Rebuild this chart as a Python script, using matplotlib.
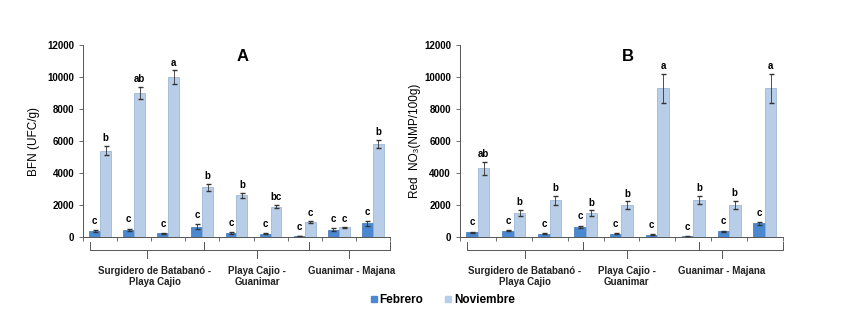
import numpy as np
import matplotlib.pyplot as plt
from matplotlib.lines import Line2D

plt.rcParams['font.family'] = ['Liberation Sans', 'DejaVu Sans']
plt.rcParams['font.weight'] = 'bold'

# BFN counts (panel A) and nitrate reducers (panel B), 9 sampling points
feb_a = [350, 450, 220, 650, 250, 200, 60, 450, 850]
feb_a_err = [60, 80, 40, 150, 50, 40, 20, 100, 150]
nov_a = [5400, 9000, 10000, 3100, 2600, 1900, 950, 600, 5800]
nov_a_err = [300, 380, 420, 200, 170, 100, 50, 40, 250]
feb_a_lab = ['c'] * 9
nov_a_lab = ['b', 'ab', 'a', 'b', 'b', 'bc', 'c', 'c', 'b']

feb_b = [300, 400, 200, 650, 200, 150, 50, 350, 850]
feb_b_err = [40, 50, 30, 60, 40, 30, 20, 50, 80]
nov_b = [4300, 1500, 2300, 1500, 2000, 9300, 2300, 2000, 9300]
nov_b_err = [400, 180, 280, 170, 220, 900, 250, 250, 900]
feb_b_lab = ['c'] * 9
nov_b_lab = ['ab', 'b', 'b', 'b', 'b', 'a', 'b', 'b', 'a']

zones = ['Surgidero de Batabanó -\nPlaya Cajio', 'Playa Cajio -\nGuanimar',
         'Guanimar - Majana']

c_feb = '#4a88cf'
c_nov = '#b8cde8'
c_nov_edge = '#93afd3'


def draw_panel(ax, feb, feb_err, nov, nov_err, feb_lab, nov_lab, title, ylabel,
               brackets, centers, label_x, ylabelpad):
    x = np.arange(len(feb))
    w = 0.32
    ax.bar(x - w / 2, feb, w, color=c_feb, edgecolor='#3a75b8', linewidth=0.5,
           yerr=feb_err, error_kw=dict(ecolor='#333333', elinewidth=0.6, capsize=1.8))
    ax.bar(x + w / 2, nov, w, color=c_nov, edgecolor=c_nov_edge, linewidth=0.5,
           yerr=nov_err, error_kw=dict(ecolor='#333333', elinewidth=0.6, capsize=1.8))
    for i in x:
        ax.annotate(feb_lab[i], (i - w / 2, feb[i] + feb_err[i]), xytext=(0, 3),
                    textcoords='offset points', ha='center', va='bottom', fontsize=7)
        ax.annotate(nov_lab[i], (i + w / 2, nov[i] + nov_err[i]), xytext=(0, 2),
                    textcoords='offset points', ha='center', va='bottom', fontsize=7)

    ax.set_xlim(-0.5, len(feb) - 0.5)
    ax.set_ylim(0, 12000)
    ax.set_yticks(range(0, 12001, 2000))
    ax.set_xticks(np.arange(-0.5, len(feb), 1.0))
    ax.set_xticklabels([])
    ax.tick_params(axis='both', labelsize=7, length=3, width=0.6, color='#555555')
    for s in ['top', 'right']:
        ax.spines[s].set_visible(False)
    for s in ['left', 'bottom']:
        ax.spines[s].set_color('#555555')
        ax.spines[s].set_linewidth(0.7)
    ax.set_ylabel(ylabel, fontsize=8.5, labelpad=ylabelpad)
    ax.text(0.52, 0.98, title, transform=ax.transAxes, ha='center', va='top',
            fontsize=12)

    # curly brackets grouping the sampling points by zone
    tr = ax.get_xaxis_transform()
    y_top, y_mid, y_tip = -0.026, -0.07, -0.11
    for (x0, x1), xc in zip(brackets, centers):
        ax.plot([x0, x0, x1, x1], [y_top, y_mid, y_mid, y_top], transform=tr,
                color='#555555', lw=0.7, clip_on=False)
        ax.plot([xc, xc], [y_mid, y_tip], transform=tr, color='#555555', lw=0.7,
                clip_on=False)
    for name, xl in zip(zones, label_x):
        ax.text(xl, -0.15, name, transform=tr, ha='center', va='top', fontsize=7,
                linespacing=1.1, color='#222222')


fig = plt.figure(figsize=(8.43, 3.29), dpi=100)
ax_a = fig.add_axes([0.0985, 0.2796, 0.364, 0.5836])
ax_b = fig.add_axes([0.5457, 0.2796, 0.383, 0.5836])

draw_panel(ax_a, feb_a, feb_a_err, nov_a, nov_a_err, feb_a_lab, nov_a_lab, 'A',
           'BFN (UFC/g)', [(-0.3, 3.05), (3.05, 6.13), (6.13, 8.5)],
           [1.38, 4.6, 7.3], [1.61, 4.6, 7.39], 5)
draw_panel(ax_b, feb_b, feb_b_err, nov_b, nov_b_err, feb_b_lab, nov_b_lab, 'B',
           'Red  NO₃(NMP/100g)', [(-0.3, 2.93), (2.93, 6.16), (6.16, 8.5)],
           [1.31, 4.15, 6.8], [1.31, 4.15, 6.8], 2)

handles = [Line2D([], [], marker='s', color='none', markerfacecolor=c_feb,
                  markeredgecolor=c_feb, markersize=5),
           Line2D([], [], marker='s', color='none', markerfacecolor=c_nov,
                  markeredgecolor=c_nov, markersize=5)]
fig.legend(handles, ['Febrero', 'Noviembre'], loc='center', ncol=2,
           bbox_to_anchor=(0.525, 0.088), frameon=False, fontsize=8.5,
           handlelength=0.6, handletextpad=0.2, columnspacing=1.8)

fig.savefig('out.png', dpi=100)
